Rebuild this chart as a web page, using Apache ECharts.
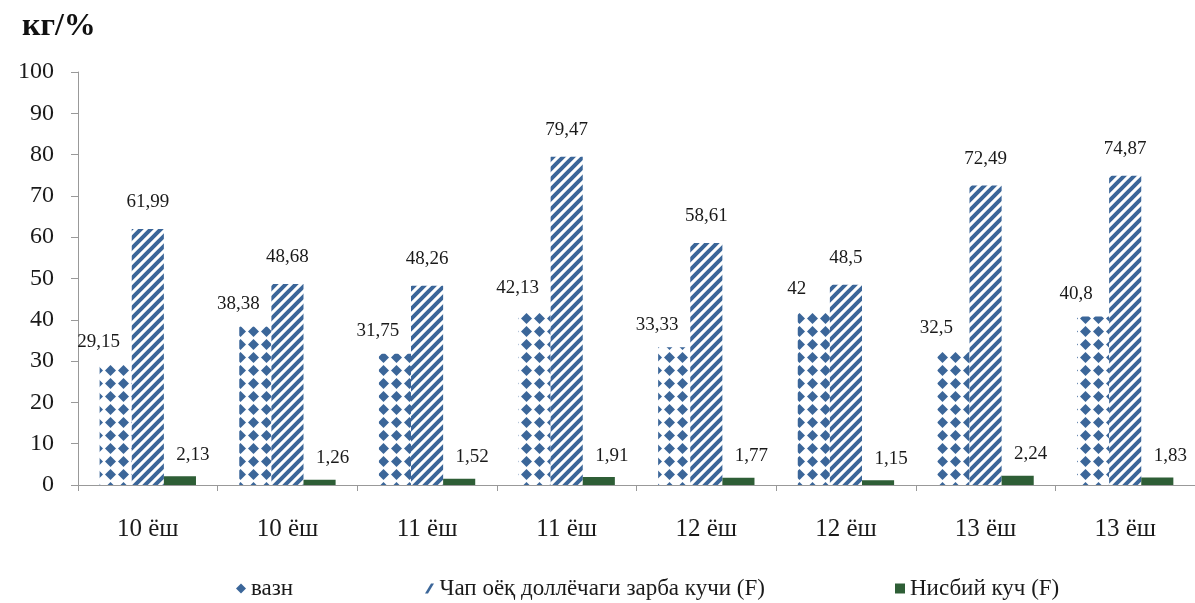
<!DOCTYPE html>
<html>
<head>
  <meta charset="UTF-8">
  <title>кг/%</title>
  <script src="https://cdn.jsdelivr.net/npm/echarts@6/dist/echarts.min.js"></script>
  <style>
    html, body { margin: 0; padding: 0; background: #fff; }
  </style>
</head>
<body>
<div id="chart" style="width:1195px; height:603px;"></div>
<script>
  // ===== data =====
  const categories = ['10 ёш', '10 ёш', '11 ёш', '11 ёш', '12 ёш', '12 ёш', '13 ёш', '13 ёш'];
  const vazn = [29.15, 38.38, 31.75, 42.13, 33.33, 42, 32.5, 40.8];
  const zarba = [61.99, 48.68, 48.26, 79.47, 58.61, 48.5, 72.49, 74.87];
  const nisbiy = [2.13, 1.26, 1.52, 1.91, 1.77, 1.15, 2.24, 1.83];
  const names = ['вазн', 'Чап оёқ доллёчаги зарба кучи (F)', 'Нисбий куч (F)'];

  const BLUE = '#3b6699';
  const GREEN = '#2e5e36';
  const TXT = '#1a1a1a';
  const FONT = '"Liberation Serif", "DejaVu Serif", serif';

  // diamond tile
  function diamondTile() {
    const c = document.createElement('canvas');
    c.width = 13; c.height = 13;
    const ctx = c.getContext('2d');
    ctx.fillStyle = '#fff';
    ctx.fillRect(0, 0, 13, 13);
    ctx.fillStyle = BLUE;
    ctx.beginPath();
    ctx.moveTo(6.5, 1); ctx.lineTo(12, 6.5); ctx.lineTo(6.5, 12); ctx.lineTo(1, 6.5);
    ctx.closePath();
    ctx.fill();
    return c;
  }

  // diagonal stripe tile "/"
  function stripeTile() {
    const s = 10;
    const c = document.createElement('canvas');
    c.width = s; c.height = s;
    const ctx = c.getContext('2d');
    ctx.fillStyle = '#fff';
    ctx.fillRect(0, 0, s, s);
    ctx.strokeStyle = BLUE;
    ctx.lineWidth = 4;
    ctx.beginPath();
    ctx.moveTo(-2, s + 2); ctx.lineTo(s + 2, -2);
    ctx.moveTo(-2, 2); ctx.lineTo(2, -2);
    ctx.moveTo(s - 2, s + 2); ctx.lineTo(s + 2, s - 2);
    ctx.stroke();
    return c;
  }

  const fmt = p => String(p.value).replace('.', ',');
  const labelBase = {
    show: true,
    position: 'top',
    formatter: fmt,
    fontFamily: FONT,
    fontSize: 19,
    color: TXT
  };

  const chart = echarts.init(document.getElementById('chart'), null, {renderer: 'canvas'});

  const legendBase = {
    top: 572,
    itemWidth: 10,
    itemHeight: 10,
    itemGap: 6,
    textStyle: { fontFamily: FONT, fontSize: 23, color: TXT }
  };

  chart.setOption({
    animation: false,
    backgroundColor: '#fff',
    title: {
      text: 'кг/%',
      left: 17,
      top: 6,
      textStyle: { fontFamily: FONT, fontSize: 32, fontWeight: 'bold', color: '#111' }
    },
    legend: [
      Object.assign({}, legendBase, {
        left: 231,
        data: [{ name: names[0], icon: 'diamond', itemStyle: { color: BLUE } }]
      }),
      Object.assign({}, legendBase, {
        left: 420,
        data: [{ name: names[1], icon: 'path://M0,10 L6,0 L9,0 L3,10 Z', itemStyle: { color: BLUE } }]
      }),
      Object.assign({}, legendBase, {
        left: 890,
        data: [{ name: names[2], icon: 'rect', itemStyle: { color: GREEN } }]
      })
    ],
    grid: { left: 78, right: -9, top: 72, bottom: 118 },
    xAxis: {
      type: 'category',
      data: categories,
      axisLine: { lineStyle: { color: '#999' } },
      axisTick: { show: true, length: 6, lineStyle: { color: '#999' } },
      axisLabel: { fontFamily: FONT, fontSize: 25, color: TXT, margin: 32 }
    },
    yAxis: {
      type: 'value',
      min: 0,
      max: 100,
      interval: 10,
      splitLine: { show: false },
      axisLine: { show: true, lineStyle: { color: '#999' } },
      axisTick: { show: true, length: 7, lineStyle: { color: '#999' } },
      axisLabel: { fontFamily: FONT, fontSize: 24, color: TXT, margin: 24 }
    },
    series: [
      {
        name: names[0],
        type: 'bar',
        data: vazn,
        barGap: '0%',
        barCategoryGap: '31%',
        itemStyle: { color: { image: diamondTile(), repeat: 'repeat' } },
        label: Object.assign({}, labelBase, { offset: [-17, -8] })
      },
      {
        name: names[1],
        type: 'bar',
        data: zarba,
        itemStyle: { color: { image: stripeTile(), repeat: 'repeat' } },
        label: Object.assign({}, labelBase, { offset: [0, -12] })
      },
      {
        name: names[2],
        type: 'bar',
        data: nisbiy,
        itemStyle: { color: GREEN },
        label: Object.assign({}, labelBase, { offset: [13, -7] })
      }
    ]
  });
</script>
</body>
</html>
